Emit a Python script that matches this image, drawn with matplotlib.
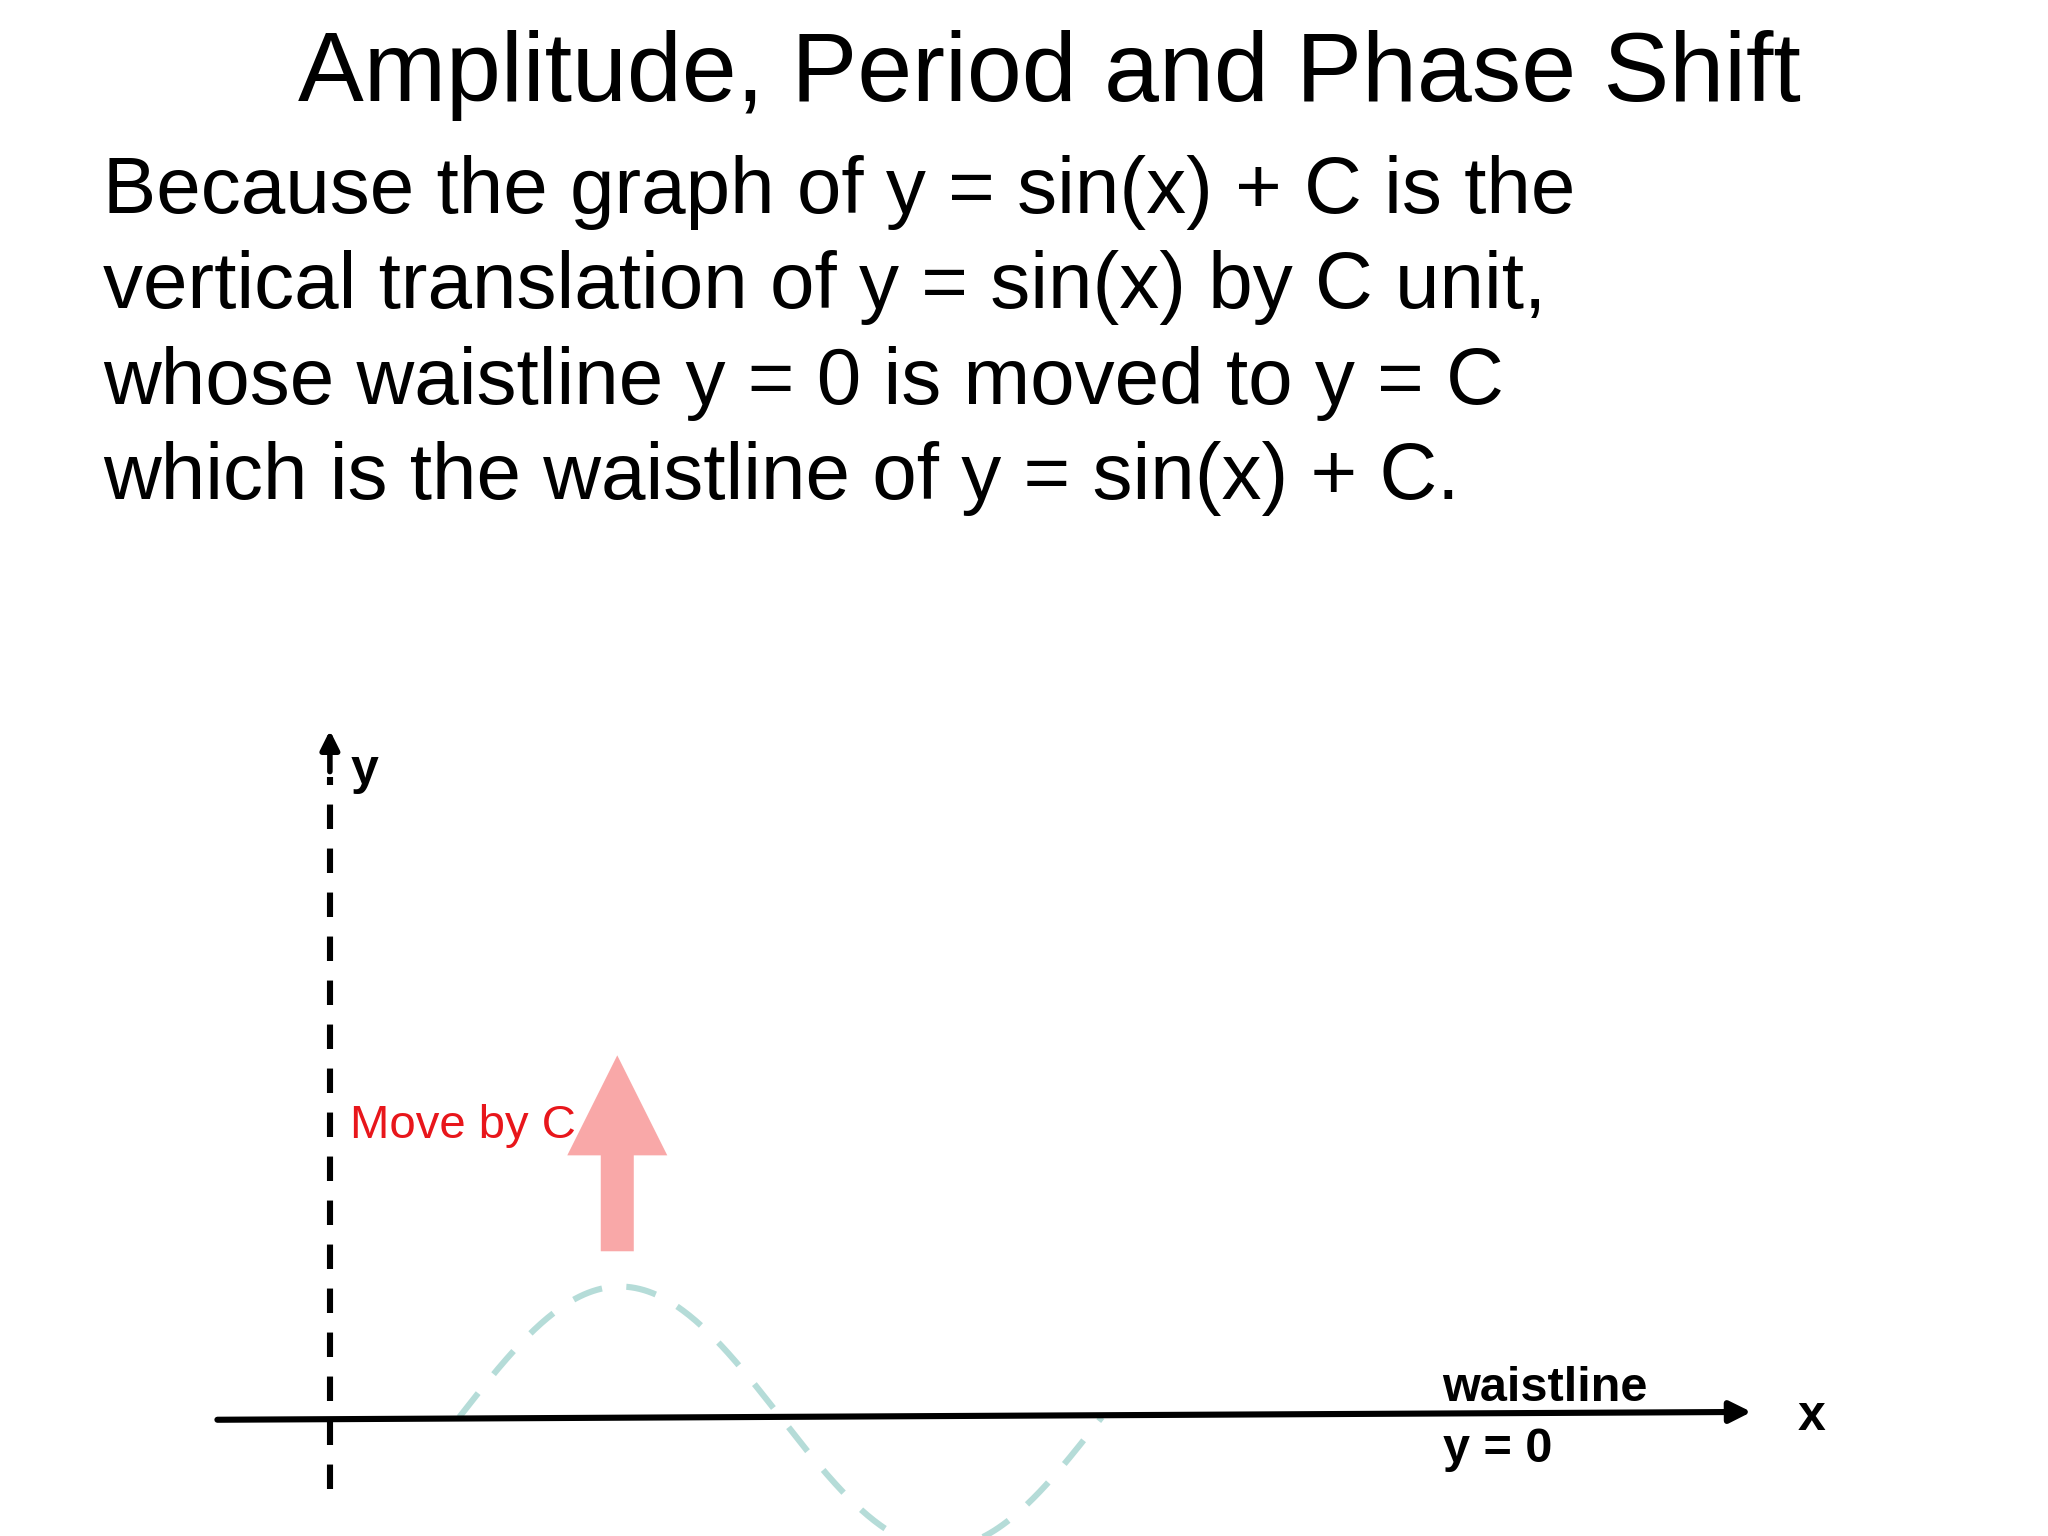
import numpy as np
import matplotlib
matplotlib.use("Agg")
import matplotlib.pyplot as plt

W, H = 1552, 1176  # layout reference grid
title = "Amplitude, Period and Phase Shift"
body = ["Because the graph of y = sin(x) + C is the",
        "vertical translation of y = sin(x) by C unit,",
        "whose waistline y = 0 is moved to y = C",
        "which is the waistline of y = sin(x) + C."]
phase = 1.265
xs = np.linspace(phase, phase + 2 * np.pi, 300)
ys = np.sin(xs - phase)

plt.rcParams['font.family'] = ['Liberation Sans', 'DejaVu Sans']
fig = plt.figure(figsize=(10.24, 7.68), dpi=200)

# math axes: 1 unit in y = 100 px, 1 radian = 77.5 px, origin at (250, 1085)
ax = fig.add_axes([0, 0, 1, 1])
sx, sy, ox, oy = 77.5, 100.0, 250, 1085
ax.set_xlim(-ox / sx, (W - ox) / sx)
ax.set_ylim(-(H - oy) / sy, oy / sy)
ax.axis("off")

ax.plot(xs, ys, color="#b5dcd8", lw=2.2, ls=(0, (5, 4)))
ax.plot([0, 0], [-0.55, 4.9], color="black", lw=2.2, ls=(0, (4, 3.2)))
ax.annotate("", xy=(0, 5.3), xytext=(0, 4.9),
            arrowprops=dict(arrowstyle="-|>", color="black", lw=2, mutation_scale=14))
ax.annotate("", xy=(13.9, 0.04), xytext=(-1.1, -0.02),
            arrowprops=dict(arrowstyle="-|>", color="black", lw=2.2, mutation_scale=16, shrinkA=0, shrinkB=0))
ax.annotate("", xy=(2.81, 2.77), xytext=(2.81, 1.27),
            arrowprops=dict(arrowstyle="simple,head_width=1.0,head_length=1.0,tail_width=0.33",
                            color="#f9a8a8", lw=0, mutation_scale=36, shrinkA=0, shrinkB=0))

ax.text(0.2, 4.95, "y", fontsize=18, fontweight="bold", va="center")
ax.text(14.35, 0.0, "x", fontsize=18, fontweight="bold", va="center")
ax.text(10.88, 0.22, "waistline", fontsize=17.5, fontweight="bold", va="center")
ax.text(10.88, -0.25, "y = 0", fontsize=17.5, fontweight="bold", va="center")
ax.text(0.2, 2.23, "Move by C", fontsize=17, color="#e8161b", va="center")

fig.text(795 / W, 1 - 58 / H, title, fontsize=35.5, ha="center", va="center")
for i, line in enumerate(body):
    fig.text(78 / W, 1 - (163 + 73 * i) / H, line, fontsize=28.8, ha="left", va="baseline")

fig.savefig("out.png", dpi=200, facecolor="white")
